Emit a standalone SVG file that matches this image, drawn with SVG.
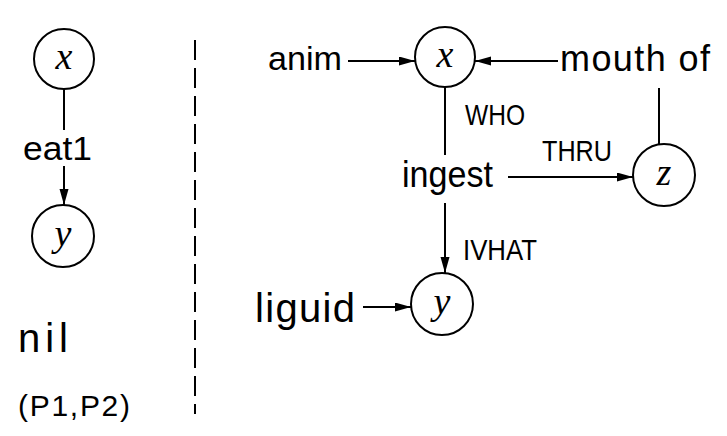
<svg xmlns="http://www.w3.org/2000/svg" width="727" height="436" viewBox="0 0 727 436">
<style>
.node{fill:none;stroke:#000;stroke-width:2}
.var{font-family:"Liberation Serif",serif;font-style:italic;font-size:38px;fill:#000}
.lbl{font-family:"Liberation Sans",sans-serif;fill:#000}
.edge{stroke:#000;stroke-width:2;fill:none}
.sep{stroke:#000;stroke-width:2;stroke-dasharray:20 8}
</style>
<defs>
<marker id="ah" markerUnits="userSpaceOnUse" markerWidth="17" markerHeight="10" refX="16" refY="4.5" orient="auto">
<path d="M0,0 L16,4.5 L0,9 z" fill="#000"/>
</marker>
</defs>
<rect width="727" height="436" fill="#fff"/>

<line class="sep" x1="195" y1="40" x2="195" y2="414"/>

<g id="connectors">
<line class="edge" x1="64" y1="89" x2="64" y2="130"/>
<line class="edge" x1="64" y1="166" x2="64" y2="205" marker-end="url(#ah)"/>
<line class="edge" x1="348" y1="61" x2="415" y2="61" marker-end="url(#ah)"/>
<line class="edge" x1="558" y1="61" x2="475" y2="61" marker-end="url(#ah)"/>
<line class="edge" x1="445" y1="87" x2="445" y2="155"/>
<line class="edge" x1="445" y1="203" x2="445" y2="273" marker-end="url(#ah)"/>
<line class="edge" x1="508" y1="177" x2="633" y2="177" marker-end="url(#ah)"/>
<line class="edge" x1="659" y1="144" x2="659" y2="88"/>
<line class="edge" x1="363" y1="307" x2="411" y2="307" marker-end="url(#ah)"/>
</g>

<g id="left-x">
<circle class="node" cx="64" cy="59" r="30"/>
<text class="var" x="64" y="69" text-anchor="middle">x</text>
</g>
<g id="left-eat1">
<text class="lbl" x="23" y="160" font-size="34" textLength="69" lengthAdjust="spacingAndGlyphs">eat1</text>
</g>
<g id="left-y">
<circle class="node" cx="63" cy="236" r="31"/>
<text class="var" x="63" y="246" text-anchor="middle">y</text>
</g>
<g id="left-nil">
<text class="lbl" x="18" y="352" font-size="40" textLength="50" lengthAdjust="spacing">nil</text>
</g>
<g id="left-p">
<text class="lbl" x="18" y="416" font-size="30" textLength="112" lengthAdjust="spacing">(P1,P2)</text>
</g>

<g id="anim">
<text class="lbl" x="268" y="70" font-size="34" textLength="74" lengthAdjust="spacingAndGlyphs">anim</text>
</g>
<g id="right-x">
<circle class="node" cx="445" cy="57" r="30"/>
<text class="var" x="445" y="67" text-anchor="middle">x</text>
</g>
<g id="mouth-of">
<text class="lbl" x="560" y="71" font-size="36" textLength="150" lengthAdjust="spacing">mouth of</text>
</g>
<g id="who">
<text class="lbl" x="465" y="125" font-size="29" textLength="60" lengthAdjust="spacingAndGlyphs">WHO</text>
</g>
<g id="ingest">
<text class="lbl" x="402" y="187" font-size="37" textLength="91" lengthAdjust="spacingAndGlyphs">ingest</text>
</g>
<g id="thru">
<text class="lbl" x="542" y="161" font-size="29" textLength="70" lengthAdjust="spacingAndGlyphs">THRU</text>
</g>
<g id="right-z">
<circle class="node" cx="664" cy="175" r="31"/>
<text class="var" x="664" y="185" text-anchor="middle">z</text>
</g>
<g id="what">
<text class="lbl" x="463" y="260" font-size="29" textLength="74" lengthAdjust="spacingAndGlyphs">IVHAT</text>
</g>
<g id="liguid">
<text class="lbl" x="255" y="322" font-size="40" textLength="100" lengthAdjust="spacing">liguid</text>
</g>
<g id="right-y">
<circle class="node" cx="442" cy="304" r="31"/>
<text class="var" x="442" y="314" text-anchor="middle">y</text>
</g>
</svg>
